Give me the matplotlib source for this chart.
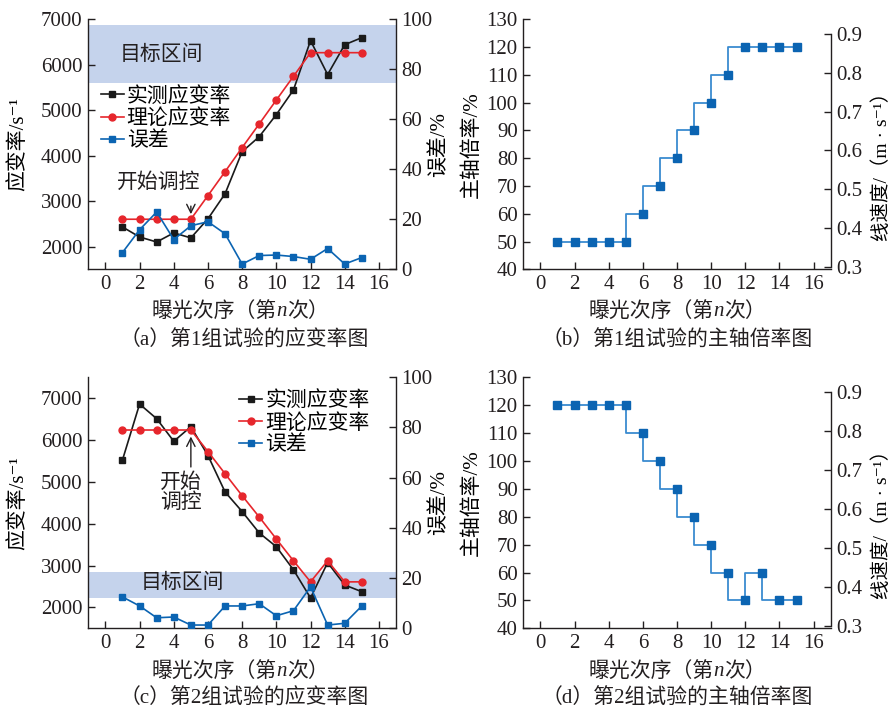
import matplotlib
matplotlib.use('Agg')
import matplotlib.pyplot as plt

plt.rcParams['font.family'] = ['Liberation Serif', 'Noto Sans CJK SC', 'DejaVu Serif']
plt.rcParams['font.size'] = 15

INK = '#231f20'
BLACK = '#1a1a1a'
RED = '#e6262c'
BLUE = '#0b64b2'
STEP_LINE = '#3a8bd0'
BAND = '#c5d3ec'

# exposure index
n = list(range(1, 16))

# group 1
g1_measured = [2430, 2210, 2100, 2300, 2190, 2610, 3160, 4085, 4415, 4900, 5440, 6525, 5780, 6435, 6590]
g1_theory = [2600, 2600, 2600, 2600, 2600, 3120, 3645, 4175, 4695, 5220, 5740, 6260, 6260, 6260, 6260]
g1_error = [6.7, 15.8, 22.9, 11.9, 17.4, 19.0, 14.2, 2.1, 5.5, 5.7, 5.1, 4.0, 8.3, 2.1, 4.7]
g1_band = (5600, 6870)
g1_ratio = [50, 50, 50, 50, 50, 60, 70, 80, 90, 100, 110, 120, 120, 120, 120]

# group 2
g2_measured = [5525, 6860, 6510, 5970, 6320, 5630, 4760, 4290, 3780, 3450, 2900, 2225, 3070, 2535, 2375]
g2_theory = [6240, 6240, 6240, 6240, 6240, 5725, 5195, 4670, 4160, 3635, 3115, 2610, 3115, 2610, 2610]
g2_error = [12.5, 8.9, 4.2, 4.5, 1.3, 1.3, 8.9, 8.9, 9.8, 5.0, 7.0, 16.5, 1.3, 2.0, 8.9]
g2_band = (2230, 2850)
g2_ratio = [120, 120, 120, 120, 120, 110, 100, 90, 80, 70, 60, 50, 60, 50, 50]

xticks = list(range(0, 17, 2))
# x label pieces: (text, style) -> the n is italic
xlabel_parts = [('曝光次序（第', 'normal'), ('n', 'italic'), ('次）', 'normal')]
captions = ['（a）第1组试验的应变率图', '（b）第1组试验的主轴倍率图',
            '（c）第2组试验的应变率图', '（d）第2组试验的主轴倍率图']

fig = plt.figure(figsize=(8.91, 7.12), dpi=100)
renderer = fig.canvas.get_renderer()

W, H = 891, 712


def make_axes(x0, y0, x1, y1):
    return fig.add_axes([x0 / W, 1 - y1 / H, (x1 - x0) / W, (y1 - y0) / H])


def style(ax):
    ax.spines['top'].set_visible(False)
    for s in ax.spines.values():
        s.set_color(INK)
        s.set_linewidth(1.0)
    ax.tick_params(direction='in', length=5, width=1.0, colors=INK, labelsize=15, pad=4)


def mixed_xlabel(cx, cy):
    # cx, cy in pixels from top-left
    texts = [fig.text(0, 0, s, fontstyle=st, fontsize=15, color=INK, va='center', ha='left')
             for s, st in xlabel_parts]
    widths = [t.get_window_extent(renderer).width for t in texts]
    x = cx - sum(widths) / 2
    for t, w in zip(texts, widths):
        t.set_position((x / W, 1 - cy / H))
        x += w


def strain_panel(ax, measured, theory, error, band, ylim, yticks):
    ax.axhspan(band[0], band[1], color=BAND, lw=0, zorder=0)
    l1, = ax.plot(n, measured, '-s', color=BLACK, lw=1.2, ms=5, label='实测应变率', zorder=3)
    l2, = ax.plot(n, theory, '-o', color=RED, lw=1.2, ms=5, label='理论应变率', zorder=3)
    ax.set_xlim(-1, 17)
    ax.set_ylim(*ylim)
    ax.set_xticks(xticks)
    ax.set_yticks(yticks)
    ax.spines['right'].set_visible(False)
    style(ax)
    ax.set_ylabel('应变率/s⁻¹', fontsize=15)
    ax.yaxis.set_label_coords(-0.195, 0.5)

    ax2 = ax.twinx()
    l3, = ax2.plot(n, error, '-s', color=BLUE, lw=1.2, ms=5, label='误差', zorder=3)
    ax2.set_ylim(0, 100)
    ax2.set_yticks(range(0, 101, 20))
    style(ax2)
    ax2.spines['left'].set_visible(False)
    ax2.spines['bottom'].set_visible(False)
    ax2.set_ylabel('误差/%', fontsize=15)
    ax2.yaxis.set_label_coords(1.11, 0.5)
    return ax2, [l1, l2, l3]


def ratio_panel(ax, ratio):
    ax.step(n, ratio, where='pre', color=STEP_LINE, lw=1.3, zorder=2)
    ax.plot(n, ratio, 's', color=BLUE, ms=5.5, zorder=3)
    ax.set_xlim(-1, 17)
    ax.set_ylim(40, 130)
    ax.set_xticks(xticks)
    ax.set_yticks(range(40, 131, 10))
    ax.spines['right'].set_visible(False)
    style(ax)
    ax.set_ylabel('主轴倍率/%', fontsize=15)
    ax.yaxis.set_label_coords(-0.135, 0.5)

    ax2 = ax.twinx()
    ax2.set_ylim(0.293, 0.939)
    ax2.set_yticks([0.3, 0.4, 0.5, 0.6, 0.7, 0.8, 0.9])
    ax2.set_yticklabels(['0.3', '0.4', '0.5', '0.6', '0.7', '0.8', '0.9'])
    style(ax2)
    ax2.spines['left'].set_visible(False)
    ax2.spines['bottom'].set_visible(False)
    ax2.spines['right'].set_bounds(0.3, 0.9)
    ax2.set_ylabel('线速度/（m · s⁻¹）', fontsize=14)
    ax2.yaxis.set_label_coords(1.135, 0.43)


# (a)
axa = make_axes(88.3, 19, 396, 269.3)
axa2, hs = strain_panel(axa, g1_measured, g1_theory, g1_error, g1_band,
                        (1500, 7000), range(2000, 7001, 1000))
axa.text(3.25, 6210, '目标区间', ha='center', va='center', fontsize=15, color=INK)
axa.text(3.1, 3390, '开始调控', ha='center', va='center', fontsize=15, color=INK)
axa.annotate('', xy=(5, 2650), xytext=(5, 2950),
             arrowprops=dict(arrowstyle='->', color=INK, lw=1.0))
axa2.legend(handles=hs, loc='upper left', bbox_to_anchor=(0.04, 0.73), frameon=False,
            fontsize=15, handlelength=1.1, handletextpad=0.15, labelspacing=0.12,
            borderaxespad=0, borderpad=0)

# (b)
axb = make_axes(523.3, 19.3, 830.7, 269.3)
ratio_panel(axb, g1_ratio)

# (c)
axc = make_axes(88.3, 377.3, 396, 628.3)
axc2, hs = strain_panel(axc, g2_measured, g2_theory, g2_error, g2_band,
                        (1500, 7500), range(2000, 7001, 1000))
axc.text(4.5, 2570, '目标区间', ha='center', va='center', fontsize=15, color=INK)
axc.text(4.4, 4730, '开始\n调控', ha='center', va='center', fontsize=15, color=INK,
         linespacing=1.1)
axc.annotate('', xy=(5, 6150), xytext=(5, 5290),
             arrowprops=dict(arrowstyle='->', color=INK, lw=1.0))
axc2.legend(handles=hs, loc='upper left', bbox_to_anchor=(0.49, 0.945), frameon=False,
            fontsize=15, handlelength=1.1, handletextpad=0.15, labelspacing=0.12,
            borderaxespad=0, borderpad=0)

# (d)
axd = make_axes(523.3, 377.3, 830.7, 628.3)
ratio_panel(axd, g2_ratio)

# x labels
mixed_xlabel(240, 312)
mixed_xlabel(677, 312)
mixed_xlabel(240, 672)
mixed_xlabel(677, 672)

# captions
fig.text(244 / W, 1 - 341 / H, captions[0], ha='center', va='center', fontsize=15, color=INK)
fig.text(677 / W, 1 - 341 / H, captions[1], ha='center', va='center', fontsize=15, color=INK)
fig.text(244 / W, 1 - 699 / H, captions[2], ha='center', va='center', fontsize=15, color=INK)
fig.text(677 / W, 1 - 699 / H, captions[3], ha='center', va='center', fontsize=15, color=INK)

fig.savefig('out.png', dpi=100)
